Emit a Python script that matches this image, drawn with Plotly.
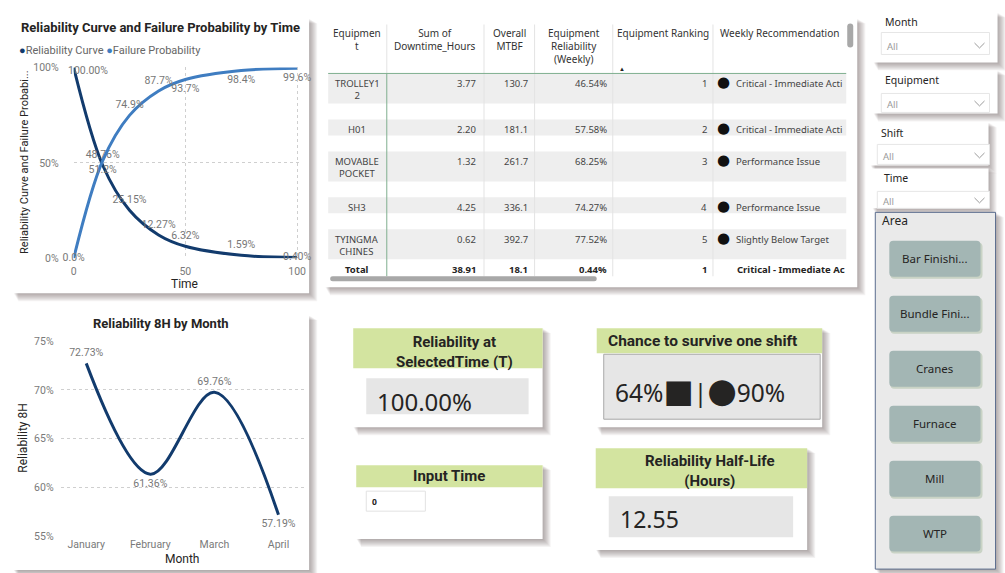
import plotly.graph_objects as go

W, H = 1005, 573

# ---------- DATA ----------
time_hours = [0, 13, 25, 38, 50, 75, 100]
reliability_curve = [1.0, 0.4876, 0.2515, 0.1227, 0.0632, 0.0159, 0.0040]
failure_probability = [0.0, 0.512, 0.749, 0.877, 0.937, 0.984, 0.996]

months = ["January", "February", "March", "April"]
reliability_8h = [0.7273, 0.6136, 0.6976, 0.5719]

table_headers = ["Equipmen<br>t", "Sum of<br>Downtime_Hours", "Overall<br>MTBF",
                 "Equipment<br>Reliability<br>(Weekly)", "Equipment Ranking", "Weekly Recommendation"]
equipment = ["TROLLEY1<br>2", "H01", "MOVABLE<br>POCKET", "SH3", "TYINGMA<br>CHINES"]
downtime_hours = [3.77, 2.20, 1.32, 4.25, 0.62]
overall_mtbf = [130.7, 181.1, 261.7, 336.1, 392.7]
weekly_reliability = [0.4654, 0.5758, 0.6825, 0.7427, 0.7752]
equipment_rank = [1, 2, 3, 4, 5]
recommendation = ["Critical - Immediate Acti", "Critical - Immediate Acti", "Performance Issue",
                  "Performance Issue", "Slightly Below Target"]
total_row = ["Total", 38.91, 18.1, 0.0044, 1, "Critical - Immediate Ac"]

reliability_at_t = 1.0
input_time = 0
survive_shift = [0.64, 0.90]
half_life_hours = 12.55

slicers = ["Month", "Equipment", "Shift", "Time"]
areas = ["Bar Finishi...", "Bundle Fini...", "Cranes", "Furnace", "Mill", "WTP"]

# ---------- STYLE ----------
NAVY = "#123B6D"
BLUE = "#3F7DC1"
GRID = "#CFCFCF"
BAND = "#D3E4A0"
BOXGRAY = "#E6E6E6"
DIN = "Roboto, sans-serif"
SEGOE = "'Noto Sans', 'Open Sans', sans-serif"
LABEL = dict(family=DIN, size=10.5, color="#777777")
TICK = dict(family=DIN, size=10.5, color="#7A7A7A")
GHOST = dict(size=6, color="rgba(0,0,0,0)")  # invisible markers push labels off the line

rel_pos = ["middle center", "top center", "top center", "top center", "top center", "top center", "middle center"]
fail_pos = ["middle center", "bottom center", "top center", "top center", "bottom center", "bottom center", "bottom center"]
month_pos = ["top center", "bottom center", "top center", "bottom center"]

# the photographed page comes out slightly framed, so layout coords (reference pixels)
# are mapped back through that frame
SX, BX = 0.990, 4.5
SY, BY = 0.978, 5.5


def fx(x):
    return ((x - BX) / SX) / W


def fy(y):
    return 1 - ((y - BY) / SY) / H


shapes, annotations = [], []


def rect(x0, y0, x1, y1, fill, line=None, lw=0):
    shapes.append(dict(type="rect", xref="paper", yref="paper", layer="below",
                       x0=fx(x0), x1=fx(x1), y0=fy(y1), y1=fy(y0), fillcolor=fill,
                       line=dict(color=line or fill, width=lw)))


def hline(x0, x1, y, color, lw=1):
    shapes.append(dict(type="line", xref="paper", yref="paper", layer="below",
                       x0=fx(x0), x1=fx(x1), y0=fy(y), y1=fy(y), line=dict(color=color, width=lw)))


def vline(x, y0, y1, color, lw=1):
    shapes.append(dict(type="line", xref="paper", yref="paper", layer="below",
                       x0=fx(x), x1=fx(x), y0=fy(y0), y1=fy(y1), line=dict(color=color, width=lw)))


def rounded(x0, y0, x1, y1, r, fill):
    X, Y = fx, fy
    path = (f"M {X(x0 + r)},{Y(y0)} L {X(x1 - r)},{Y(y0)} Q {X(x1)},{Y(y0)} {X(x1)},{Y(y0 + r)} "
            f"L {X(x1)},{Y(y1 - r)} Q {X(x1)},{Y(y1)} {X(x1 - r)},{Y(y1)} L {X(x0 + r)},{Y(y1)} "
            f"Q {X(x0)},{Y(y1)} {X(x0)},{Y(y1 - r)} L {X(x0)},{Y(y0 + r)} Q {X(x0)},{Y(y0)} {X(x0 + r)},{Y(y0)} Z")
    shapes.append(dict(type="path", xref="paper", yref="paper", layer="below", path=path,
                       fillcolor=fill, line=dict(width=0)))


def shadow(x0, y0, x1, y1, depth=8, alpha=0.06):
    for i in range(1, depth + 1):
        rect(x0 + i * 0.6, y0 + i * 0.6, x1 + i, y1 + i, f"rgba(70,55,55,{alpha})")


def card(x0, y0, x1, y1, fill="white"):
    shadow(x0, y0, x1, y1)
    rect(x0, y0, x1, y1, fill)


def text(x, y, s, size=10, color="#252423", family=SEGOE, xanchor="left", yanchor="middle", angle=0):
    annotations.append(dict(xref="paper", yref="paper", x=fx(x), y=fy(y), text=s, showarrow=False,
                            xanchor=xanchor, yanchor=yanchor, textangle=angle,
                            align=xanchor if xanchor != "middle" else "center",
                            font=dict(family=family, size=size, color=color)))


def chevron(x, y):
    X, Y = fx, fy
    shapes.append(dict(type="path", xref="paper", yref="paper", layer="below",
                       path=f"M {X(x - 5)},{Y(y - 2.5)} L {X(x)},{Y(y + 2.5)} L {X(x + 5)},{Y(y - 2.5)}",
                       line=dict(color="#9A9A9A", width=1)))


# ---------- CARDS ----------
card(15, 18, 310, 293)
card(15, 315, 310, 570)
card(326, 18, 857, 287)

# ---------- CHART 1 ----------
rel_text = [f"{v:.2%}" for v in reliability_curve]
rel_text[0] = ""  # first label is pinned inside the plot edge below, like Power BI does
fail_text = [f"{v:.1%}" for v in failure_probability]

fig = go.Figure()
fig.add_trace(go.Scatter(x=time_hours, y=reliability_curve, mode="lines+markers+text", name="Reliability Curve",
                         line=dict(color=NAVY, width=3, shape="spline"), marker=GHOST, text=rel_text,
                         textposition=rel_pos, textfont=LABEL, cliponaxis=False, xaxis="x", yaxis="y",
                         hoverinfo="skip"))
fig.add_trace(go.Scatter(x=time_hours, y=failure_probability, mode="lines+markers+text", name="Failure Probability",
                         line=dict(color=BLUE, width=3, shape="spline"), marker=GHOST, text=fail_text,
                         textposition=fail_pos, textfont=LABEL, cliponaxis=False, xaxis="x", yaxis="y",
                         hoverinfo="skip"))
annotations.append(dict(xref="x", yref="y", x=time_hours[0], y=reliability_curve[0],
                        text=f"{reliability_curve[0]:.2%}", showarrow=False, xanchor="left",
                        xshift=-8, yshift=-3, font=LABEL))
text(162, 27, "<b>Reliability Curve and Failure Probability by Time</b>", size=13, family=DIN, xanchor="center")
text(18, 50, f"<span style='color:{NAVY}'>●</span>Reliability Curve <span style='color:{BLUE}'>●</span>"
     "Failure Probability", size=11, color="#666666", family=DIN)
text(26, 162, "Reliability Curve and Failure Probabi...", size=11, family=DIN, xanchor="center", angle=-90)
text(186, 284, "Time", size=12, family=DIN, xanchor="center")

# ---------- CHART 2 ----------
fig.add_trace(go.Scatter(x=months, y=reliability_8h, mode="lines+markers+text", name="Reliability 8H",
                         line=dict(color=NAVY, width=3, shape="spline"), marker=GHOST, texttemplate="%{y:.2%}",
                         textposition=month_pos, textfont=LABEL, cliponaxis=False, xaxis="x2", yaxis="y2",
                         hoverinfo="skip"))
text(162, 323, "<b>Reliability 8H by Month</b>", size=13, family=DIN, xanchor="center")
text(25, 438, "Reliability 8H", size=12, family=DIN, xanchor="center", angle=-90)
text(183, 559, "Month", size=12, family=DIN, xanchor="center")

# ---------- TABLE ----------
col_edges = [329, 387.5, 484.5, 535, 613, 713, 846]
hdr_top, hdr_bottom = 24, 73
for i, h in enumerate(table_headers):
    text((col_edges[i] + col_edges[i + 1]) / 2, hdr_top, h, size=10, color="#333333",
         xanchor="center", yanchor="top")
text(622, 69, "▲", size=6, color="#222222", xanchor="center")

y = hdr_bottom
rows = zip(equipment, downtime_hours, overall_mtbf, weekly_reliability, equipment_rank, recommendation)
for name, dt, mt, rel, rk, rec in rows:
    shade = (name.count("<br>") + 1) * 14 + 2
    rect(col_edges[0], y, col_edges[-1], y + shade, "#EEEEEE")
    ty = y + 2
    text((col_edges[0] + col_edges[1]) / 2, ty, name, size=9.5, color="#444444", xanchor="center", yanchor="top")
    text(col_edges[2] - 6, ty, f"{dt:.2f}", size=9.5, color="#444444", xanchor="right", yanchor="top")
    text(col_edges[3] - 5, ty, f"{mt:.1f}", size=9.5, color="#444444", xanchor="right", yanchor="top")
    text(col_edges[4] - 4, ty, f"{rel:.2%}", size=9.5, color="#444444", xanchor="right", yanchor="top")
    text(col_edges[5] - 4, ty, f"{rk}", size=9.5, color="#444444", xanchor="right", yanchor="top")
    text(724, y + 9, "●", size=15, color="#111111", family="DejaVu Sans", xanchor="center")
    text(734, ty, rec, size=9.5, color="#444444", yanchor="top")
    y += shade + 16

ty = y - 16 + 2
text((col_edges[0] + col_edges[1]) / 2, ty, f"<b>{total_row[0]}</b>", size=9.5, xanchor="center", yanchor="top")
text(col_edges[2] - 6, ty, f"<b>{total_row[1]:.2f}</b>", size=9.5, xanchor="right", yanchor="top")
text(col_edges[3] - 5, ty, f"<b>{total_row[2]:.1f}</b>", size=9.5, xanchor="right", yanchor="top")
text(col_edges[4] - 4, ty, f"<b>{total_row[3]:.2%}</b>", size=9.5, xanchor="right", yanchor="top")
text(col_edges[5] - 4, ty, f"<b>{total_row[4]}</b>", size=9.5, xanchor="right", yanchor="top")
text(735, ty, f"<b>{total_row[5]}</b>", size=9.5, yanchor="top")

for xe in col_edges[2:-1]:
    vline(xe, hdr_top, 276, "#E3E3E3")
vline(col_edges[1], hdr_top, hdr_bottom, "#E3E3E3")
vline(col_edges[1], hdr_bottom, 276, "#7FAF8F")
hline(col_edges[0], col_edges[-1], hdr_bottom, "#7FAF8F")
rounded(331, 276, 597, 281, 2.5, "#A8A8A8")
rounded(847, 23, 853, 47, 3, "#A8A8A8")

# ---------- KPI CARDS ----------
card(354, 328, 543, 427)
rect(354, 328, 543, 368, BAND)
text(455, 352, "<b>Reliability at<br>SelectedTime (T)</b>", size=15, family=DIN, xanchor="center")
rect(367, 378, 529, 414, BOXGRAY)
text(376, 401, f"{reliability_at_t:.2%}", size=24)

card(357, 465, 543, 539)
rect(357, 465, 543, 487, BAND)
text(450, 476, "<b>Input Time</b>", size=15, family=DIN, xanchor="center")
rect(367, 491, 426, 511, "white", "#E2E2E2", 1)
text(371, 501, f"<b>{input_time}</b>", size=8.5)

card(597, 328, 822, 427)
rect(597, 328, 822, 353, BAND)
text(606, 341, "<b>Chance to survive one shift</b>", size=15.5, family=DIN)
rect(604, 354, 820, 419, BOXGRAY, "#A8A8A8", 1)
text(613, 390, f"{survive_shift[0]:.0%}<span style='font-family:DejaVu Sans;font-size:32px'>■</span>|"
     f"<span style='font-family:DejaVu Sans;font-size:34px'>●</span>{survive_shift[1]:.0%}", size=24.5)

card(596, 448, 807, 550)
rect(596, 448, 807, 488, BAND)
text(710, 471, "<b>Reliability Half-Life<br>(Hours)</b>", size=15, family=DIN, xanchor="center")
rect(609, 496, 793, 537, BOXGRAY)
text(618, 519, f"{half_life_hours:.2f}", size=23)

# ---------- SLICERS ----------
slicer_cards = [(873, 12, 997, 62), (873, 70, 997, 113), (870, 122, 988, 165), (872, 168, 988, 208)]
slicer_boxes = [(881, 32, 989, 54), (881, 93, 989, 112), (877, 144, 989, 164), (877, 191, 989, 208)]
label_pos = [(883, 22), (883, 80), (879, 133), (882, 178)]
all_y = [46, 104, 156, 201]
for name, c, b, lp, ay in zip(slicers, slicer_cards, slicer_boxes, label_pos, all_y):
    card(*c)
    rect(*b, "white", "#E6E6E6", 1)
    text(lp[0], lp[1], name, size=10.5)
    text(b[0] + 4, ay, "All", size=9.5, color="#9A9A9A")
    chevron(979, ay - 1)

shadow(875, 212, 995, 569)
rect(875, 212, 995, 569, "#EAEAEA", "#5B6D8E", 1)
text(880, 220, "Area", size=12)
for i, a in enumerate(areas):
    cy = 258.5 + i * 55
    rounded(890, cy - 16, 982, cy + 20, 4, "rgba(140,170,130,0.35)")
    rounded(889, cy - 18, 980, cy + 18, 4, "#A3B6B4")
    text(934.5, cy, a, size=11.5, xanchor="center")

# ---------- LAYOUT ----------
fig.update_layout(
    width=W, height=H, margin=dict(l=0, r=0, t=0, b=0),
    paper_bgcolor="white", plot_bgcolor="rgba(0,0,0,0)", showlegend=False,
    shapes=shapes, annotations=annotations,
    xaxis=dict(domain=[fx(75), fx(302)], range=[0, 101.8], tickvals=[0, 50, 100], showgrid=True,
               gridcolor=GRID, griddash="dot", zeroline=False, showline=False, tickfont=TICK,
               anchor="y", ticklabelstandoff=5, fixedrange=True),
    yaxis=dict(domain=[fy(258), fy(67)], range=[0, 1], tickvals=[0, 0.5, 1], tickformat=".0%",
               showgrid=True, gridcolor=GRID, griddash="dot", zeroline=False, tickfont=TICK,
               anchor="x", ticklabelstandoff=14, fixedrange=True),
    xaxis2=dict(domain=[fx(62), fx(305)], range=[-0.4, 3.4], type="category", showgrid=False,
                zeroline=False, tickfont=TICK, anchor="y2", fixedrange=True),
    yaxis2=dict(domain=[fy(536), fy(341)], range=[0.55, 0.75], tickvals=[0.55, 0.6, 0.65, 0.7, 0.75],
                tickformat=".0%", showgrid=True, gridcolor=GRID, griddash="dot", zeroline=False,
                tickfont=TICK, anchor="x2", ticklabelstandoff=6, fixedrange=True),
)

# page margin off so the 1005x573 figure fills the window exactly
fig.write_html("out.html", config={"displayModeBar": False},
               post_script="document.body.style.margin='0';document.body.style.overflow='hidden';")
